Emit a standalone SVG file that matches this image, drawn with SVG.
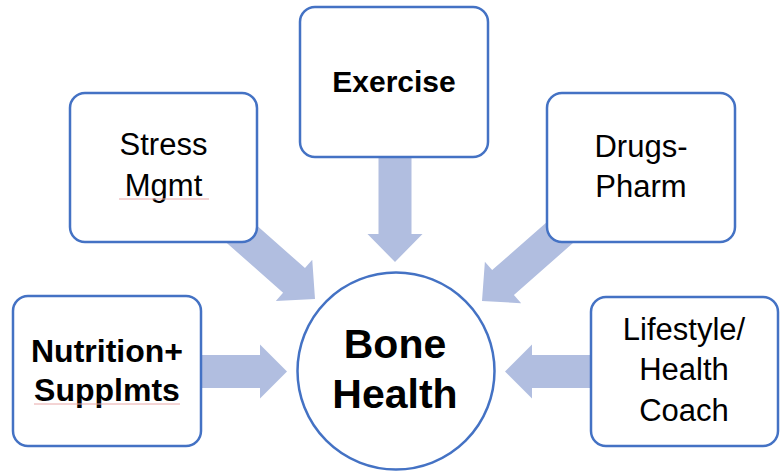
<svg xmlns="http://www.w3.org/2000/svg" width="780" height="471" viewBox="0 0 780 471">
  <defs>
    <polygon id="arrow" points="-110,-16.5 -28,-16.5 -28,-27.5 0,0 -28,27.5 -28,16.5 -110,16.5"/>
    <polygon id="arrowShort" points="-95,-16.5 -27,-16.5 -27,-27 0,0 -27,27 -27,16.5 -95,16.5"/>
  </defs>
  <style>
    .arr { fill: #B1BEE0; }
    .box { fill: #FFFFFF; stroke: #4472C4; stroke-width: 2.5; }
    .t { font-family: "Liberation Sans", Arial, sans-serif; font-size: 31px; fill: #000000; text-anchor: middle; }
    .b { font-family: "Liberation Sans", Arial, sans-serif; font-weight: bold; fill: #000000; text-anchor: middle; }
    .sq { stroke: #E8A8A8; stroke-width: 1; fill: none; }
  </style>
  <rect x="0" y="0" width="780" height="471" fill="#FFFFFF"/>
  <g id="connectors">
    <use href="#arrow" class="arr" transform="translate(395,262) rotate(90)"/>
    <use href="#arrow" class="arr" transform="translate(315,299) rotate(41.5)"/>
    <use href="#arrow" class="arr" transform="translate(482,301) rotate(138.7)"/>
    <use href="#arrowShort" class="arr" transform="translate(287,371.5)"/>
    <use href="#arrowShort" class="arr" transform="translate(505,371.5) rotate(180)"/>
  </g>
  <g id="stress">
    <rect class="box" x="70" y="93" width="187" height="149" rx="15"/>
    <text class="t" x="163.5" y="155">Stress</text>
    <text class="t" x="163.5" y="196">Mgmt</text>
    <line class="sq" x1="119" y1="199" x2="209" y2="199"/>
  </g>
  <g id="exercise">
    <rect class="box" x="300" y="7" width="188" height="150" rx="15"/>
    <text class="b" x="394" y="92" font-size="30">Exercise</text>
  </g>
  <g id="drugs">
    <rect class="box" x="547" y="93" width="188" height="149" rx="15"/>
    <text class="t" x="641" y="157">Drugs-</text>
    <text class="t" x="641" y="197">Pharm</text>
  </g>
  <g id="nutrition">
    <rect class="box" x="13" y="296" width="188" height="150" rx="15"/>
    <text class="b" x="107" y="362" font-size="32">Nutrition+</text>
    <text class="b" x="107" y="401" font-size="32">Supplmts</text>
    <line class="sq" x1="34" y1="404" x2="180" y2="404"/>
  </g>
  <g id="lifestyle">
    <rect class="box" x="591" y="297" width="187" height="149" rx="15"/>
    <text class="t" x="684" y="340">Lifestyle/</text>
    <text class="t" x="684" y="380">Health</text>
    <text class="t" x="684" y="421">Coach</text>
  </g>
  <g id="bone-health">
    <circle class="box" cx="396" cy="371" r="98.5"/>
    <text class="b" x="395" y="358" font-size="41">Bone</text>
    <text class="b" x="395" y="408" font-size="41">Health</text>
  </g>
</svg>
